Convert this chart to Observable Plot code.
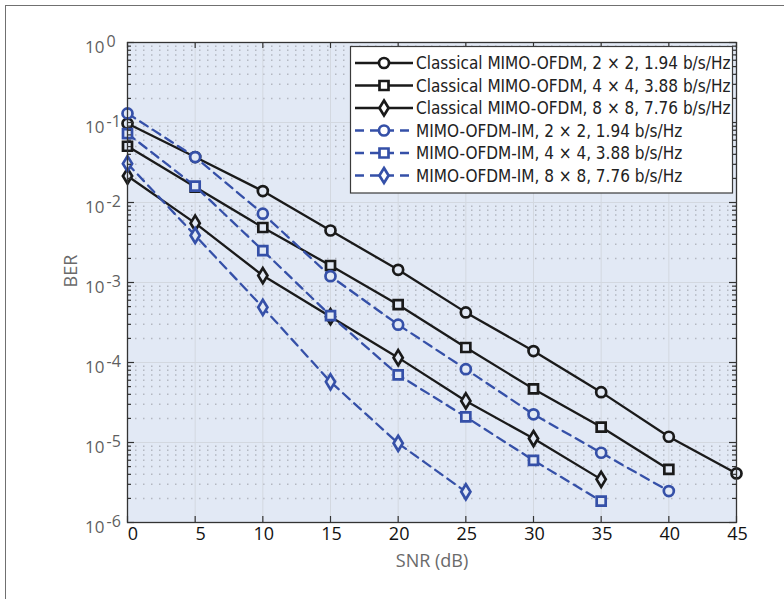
<!DOCTYPE html>
<html><head><meta charset="utf-8">
<script src="https://cdn.jsdelivr.net/npm/d3@7"></script>
<script src="https://cdn.jsdelivr.net/npm/@observablehq/plot@0.6"></script>
<style>
html,body{margin:0;padding:0;background:#fff;}
#wrap{position:relative;width:784px;height:599px;overflow:hidden;}
#chart{position:absolute;left:0;top:0;}
#border{position:absolute;left:5px;top:5px;width:800px;height:620px;border-left:1.5px solid #707070;border-top:1.5px solid #707070;pointer-events:none;}
#legend{position:absolute;left:0;top:0;}
</style></head><body>
<div id="wrap"><div id="chart"></div><div id="border"></div><svg id="legend"></svg></div>
<script>
// ---- data ----
const snr = [0, 5, 10, 15, 20, 25, 30, 35, 40, 45];
const classical2x2 = [0.097, 0.037, 0.0139, 0.00447, 0.00144, 4.23e-4, 1.39e-4, 4.26e-5, 1.18e-5, 4.11e-6];
const classical4x4 = [0.0505, 0.0156, 0.00487, 0.00163, 5.28e-4, 1.54e-4, 4.68e-5, 1.56e-5, 4.61e-6];
const classical8x8 = [0.0214, 0.00552, 0.00122, 3.74e-4, 1.15e-4, 3.31e-5, 1.12e-5, 3.46e-6];
const im2x2 = [0.130, 0.037, 0.00724, 0.0012, 2.97e-4, 8.26e-5, 2.25e-5, 7.45e-6, 2.47e-6];
const im4x4 = [0.0728, 0.016, 0.00251, 3.85e-4, 7.0e-5, 2.09e-5, 5.98e-6, 1.85e-6];
const im8x8 = [0.0306, 0.00387, 4.89e-4, 5.73e-5, 9.77e-6, 2.42e-6];
const seriesNames = [
  "Classical MIMO-OFDM, 2 × 2, 1.94 b/s/Hz",
  "Classical MIMO-OFDM, 4 × 4, 3.88 b/s/Hz",
  "Classical MIMO-OFDM, 8 × 8, 7.76 b/s/Hz",
  "MIMO-OFDM-IM, 2 × 2, 1.94 b/s/Hz",
  "MIMO-OFDM-IM, 4 × 4, 3.88 b/s/Hz",
  "MIMO-OFDM-IM, 8 × 8, 7.76 b/s/Hz"
];
const xTicks = [0, 5, 10, 15, 20, 25, 30, 35, 40, 45];
const yDecades = [1e-6, 1e-5, 1e-4, 1e-3, 1e-2, 1e-1, 1];
const xLabel = "SNR (dB)";
const yLabel = "BER";

// ---- style ----
const BG = "#e2e9f5";
const BLACK = "#1a1a1a";
const BLUE = "#3550a8";
const DASH = "9,6";
const symCircle = {draw(c){ c.moveTo(5,0); c.arc(0,0,5,0,2*Math.PI); c.closePath(); }};
const symSquare = {draw(c){ c.rect(-4.5,-4.5,9,9); }};
const symDiamond = {draw(c){ c.moveTo(0,-7.5); c.lineTo(4.6,0); c.lineTo(0,7.5); c.lineTo(-4.6,0); c.closePath(); }};

const seriesValues = [classical2x2, classical4x4, classical8x8, im2x2, im4x4, im8x8];
const symbols = [symCircle, symSquare, symDiamond, symCircle, symSquare, symDiamond];
const series = seriesValues.map((vals, i) => ({
  name: seriesNames[i],
  rows: vals.map((v, j) => ({x: snr[j], y: v})),
  color: i < 3 ? BLACK : BLUE,
  dash: i < 3 ? null : DASH,
  symbol: symbols[i]
}));

const minorTicks = [];
for (const d of yDecades.slice(0, -1)) for (let m = 2; m <= 9; m++) minorTicks.push(m * d);

const W = 784, H = 599, ML = 127, MR = 48, MT = 42, MB = 77;
const FW = W - ML - MR, FH = H - MT - MB;
const AX = "#333333";

const chart = Plot.plot({
  width: W, height: H,
  marginLeft: ML, marginRight: MR, marginTop: MT, marginBottom: MB,
  x: {domain: [0, 45], axis: null},
  y: {type: "log", domain: [1e-6, 1], axis: null},
  style: {fontFamily: "'Open Sans', sans-serif", background: "transparent", overflow: "visible"},
  marks: [
    Plot.frame({fill: BG, stroke: null}),
    Plot.ruleY(minorTicks, {y: d => d, stroke: "#b3b8c1", strokeWidth: 1.5, strokeDasharray: "1.5,6.5"}),
    Plot.ruleY(yDecades, {y: d => d, stroke: "#d3d8e0", strokeWidth: 1}),
    Plot.ruleX(xTicks, {x: d => d, stroke: "#d3d8e0", strokeWidth: 1}),
    ...series.flatMap(s => [
      Plot.line(s.rows, {x: "x", y: "y", stroke: s.color, strokeWidth: 2.3, strokeDasharray: s.dash}),
      Plot.dot(s.rows, {x: "x", y: "y", symbol: s.symbol, r: 5, stroke: s.color, strokeWidth: 2.7, fill: BG})
    ]),
    // inward ticks
    Plot.tickY(yDecades, {y: d => d, insetRight: FW - 7, stroke: AX, strokeWidth: 1.2}),
    Plot.tickY(yDecades, {y: d => d, insetLeft: FW - 7, stroke: AX, strokeWidth: 1.2}),
    Plot.tickY(minorTicks, {y: d => d, insetRight: FW - 4, stroke: AX, strokeWidth: 1.2}),
    Plot.tickY(minorTicks, {y: d => d, insetLeft: FW - 4, stroke: AX, strokeWidth: 1.2}),
    Plot.tickX(xTicks, {x: d => d, insetTop: FH - 6, stroke: AX, strokeWidth: 1.2}),
    Plot.tickX(xTicks, {x: d => d, insetBottom: FH - 6, stroke: AX, strokeWidth: 1.2}),
    Plot.frame({stroke: AX, strokeWidth: 1.3}),
    // y tick labels: 10^k
    Plot.text(yDecades, {y: d => d, frameAnchor: "left", text: () => "10", textAnchor: "end", dx: -23, dy: 5.5, fill: "#5f5f5f", fontSize: 17}),
    Plot.text(yDecades, {y: d => d, frameAnchor: "left", text: d => String(Math.round(Math.log10(d))), textAnchor: "start", dx: -21, dy: -1, fill: "#5f5f5f", fontSize: 16}),
    // x tick labels
    Plot.text(xTicks.filter(d => d < 10), {x: d => d, frameAnchor: "bottom", text: d => String(d), dy: 17.5, dx: 5.5, fill: "#111", fontSize: 18}),
    Plot.text(xTicks.filter(d => d >= 10), {x: d => d, frameAnchor: "bottom", text: d => String(d), dy: 17.5, dx: 1, fill: "#111", fontSize: 18}),
    Plot.text([xLabel], {frameAnchor: "bottom", text: d => d, dy: 44.5, fill: "#6a6a6a", fontSize: 18}),
    Plot.text([yLabel], {frameAnchor: "left", text: d => d, dx: -56, dy: 5, rotate: -90, fill: "#6a6a6a", fontSize: 18})
  ]
});
document.getElementById("chart").appendChild(chart);

// ---- legend ----
const leg = d3.select("#legend").attr("width", W).attr("height", H);
const LX = 350.5, LY = 46.5, LW = 382, LH = 146.5;
leg.append("rect").attr("x", LX).attr("y", LY).attr("width", LW).attr("height", LH)
  .attr("fill", "#fff").attr("stroke", "#3a3a3a").attr("stroke-width", 1.2);
series.forEach((s, i) => {
  const cy = 63 + i * 22.5;
  const g = leg.append("g");
  g.append("line").attr("x1", 355).attr("x2", 413).attr("y1", cy).attr("y2", cy)
    .attr("stroke", s.color).attr("stroke-width", 2.3).attr("stroke-dasharray", s.dash);
  const p = d3.path(); s.symbol.draw(p);
  g.append("path").attr("d", p.toString()).attr("transform", `translate(384,${cy})`)
    .attr("fill", "#fff").attr("stroke", s.color).attr("stroke-width", 2.7);
  g.append("text").attr("x", 416).attr("y", cy).attr("dy", "0.36em")
    .attr("font-family", "'DejaVu Sans Condensed', 'Liberation Sans Narrow', sans-serif")
    .attr("font-size", 17).attr("fill", "#222").text(s.name);
});
</script>
</body></html>
